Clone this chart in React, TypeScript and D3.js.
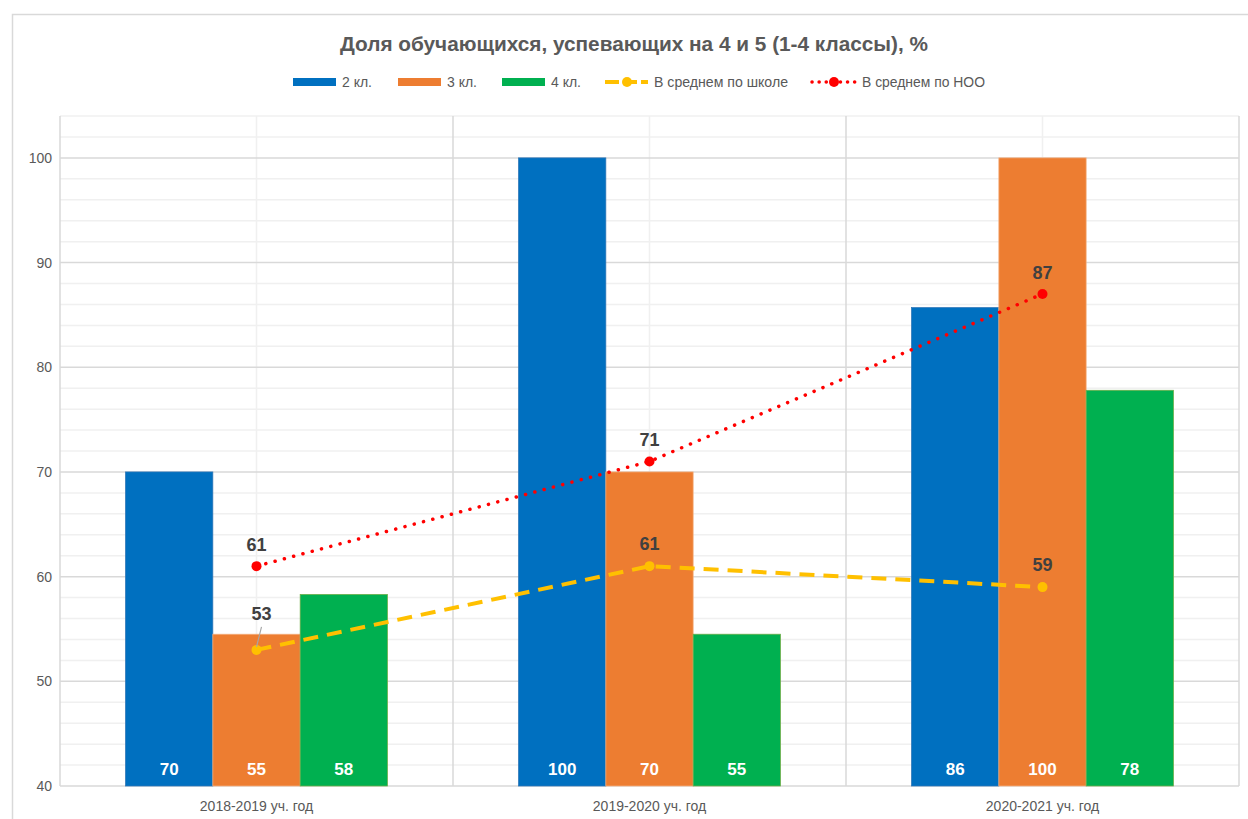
import React from "react";
import * as d3 from "d3";

const categories = ["2018-2019 уч. год", "2019-2020 уч. год", "2020-2021 уч. год"];
const barSeries = ["2 кл.", "3 кл.", "4 кл."];
const grade2 = [70, 100, 85.7];
const grade3 = [54.5, 70, 100];
const grade4 = [58.3, 54.5, 77.8];
const schoolAvg = [53, 61, 59];
const nooAvg = [61, 71, 87];
const yTicks = [40, 50, 60, 70, 80, 90, 100];
const title = "Доля обучающихся, успевающих на 4 и 5 (1-4 классы), %";
const lineNames = ["В среднем по школе", "В среднем по НОО"];

const barColors = ["#0070C0", "#ED7D31", "#00B050"];
const barEdge = ["#2E75B6", "#F4B183", "#70AD47"];
const schoolColor = "#FFC000";
const nooColor = "#FF0000";
const FONT = "'Liberation Sans', Arial, sans-serif";

export default function App() {
  const W = 1248, H = 819;
  const left = 60, right = 1239, top = 116, bottom = 786;
  const y = d3.scaleLinear().domain([40, 104]).range([bottom, top]);
  const x0 = d3.scaleBand<string>().domain(categories).range([left, right]).paddingInner(0).paddingOuter(0);
  const x1 = d3.scaleBand<string>().domain(barSeries).range([0, x0.bandwidth()]).paddingInner(0).paddingOuter(0.75);
  const barData = [grade2, grade3, grade4];
  const cx = (i: number) => (x0(categories[i]) as number) + x0.bandwidth() / 2;
  const minorTicks = d3.range(40, 105, 2).filter((v) => v % 10 !== 0);
  const line = d3.line<number>().x((_, i) => cx(i)).y((v) => y(v));

  return (
    <svg width={W} height={H} style={{ position: "absolute", left: 0, top: 0, background: "#fff" }} fontFamily={FONT}>
      <rect x={12.5} y={14.5} width={1260} height={820} fill="#fff" stroke="#d9d9d9" strokeWidth={1.5} />
      <text x={634} y={51} textAnchor="middle" fontSize={19.5} fontWeight="bold" fill="#595959" textLength={588} lengthAdjust="spacingAndGlyphs">{title}</text>

      {/* gridlines */}
      {minorTicks.map((v) => (
        <line key={"m" + v} x1={left} x2={right} y1={y(v)} y2={y(v)} stroke="#f0f0f0" strokeWidth={1.5} />
      ))}
      {categories.map((c, i) => (
        <line key={"vc" + i} x1={cx(i)} x2={cx(i)} y1={top} y2={bottom} stroke="#f0f0f0" strokeWidth={1.5} />
      ))}
      {yTicks.map((v) => (
        <line key={"M" + v} x1={left} x2={right} y1={y(v)} y2={y(v)} stroke="#d9d9d9" strokeWidth={1.5} />
      ))}
      {[0, 1, 2, 3].map((i) => {
        const xv = i < 3 ? (x0(categories[i]) as number) : right;
        return <line key={"vb" + i} x1={xv} x2={xv} y1={top} y2={bottom} stroke="#d9d9d9" strokeWidth={1.5} />;
      })}

      {/* y labels */}
      {yTicks.map((v) => (
        <text key={"yt" + v} x={52} y={y(v) + 5} textAnchor="end" fontSize={14} fill="#595959">{v}</text>
      ))}
      {/* x labels */}
      {categories.map((c, i) => (
        <text key={"xl" + i} x={cx(i)} y={811} textAnchor="middle" fontSize={14} fill="#595959">{c}</text>
      ))}

      {/* bars */}
      {barData.map((arr, s) =>
        arr.map((v, i) => {
          const bx = (x0(categories[i]) as number) + (x1(barSeries[s]) as number);
          return (
            <g key={"b" + s + "-" + i}>
              <rect x={bx} y={y(v)} width={x1.bandwidth()} height={y(40) - y(v)} fill={barColors[s]} stroke={barEdge[s]} strokeWidth={0.75} />
              <text x={bx + x1.bandwidth() / 2} y={775} textAnchor="middle" fontSize={17} fontWeight="bold" fill="#fff">{Math.round(v)}</text>
            </g>
          );
        })
      )}

      {/* school average line */}
      <path d={line(schoolAvg) as string} fill="none" stroke={schoolColor} strokeWidth={4} strokeDasharray="15 9" />
      {schoolAvg.map((v, i) => (
        <circle key={"sc" + i} cx={cx(i)} cy={y(v)} r={5} fill={schoolColor} />
      ))}
      {/* NOO line */}
      <path d={line(nooAvg) as string} fill="none" stroke={nooColor} strokeWidth={3.5} strokeDasharray="0.1 9.5" strokeLinecap="round" />
      {nooAvg.map((v, i) => (
        <circle key={"nc" + i} cx={cx(i)} cy={y(v)} r={5} fill={nooColor} />
      ))}

      {/* line labels */}
      {nooAvg.map((v, i) => (
        <text key={"nl" + i} x={cx(i)} y={y(v) - 15} textAnchor="middle" fontSize={18} fontWeight="bold" fill="#404040">{v}</text>
      ))}
      {schoolAvg.map((v, i) => {
        const lifted = i === 0;
        const ly = lifted ? y(v) - 30 : y(v) - 16;
        return (
          <g key={"sl" + i}>
            {lifted && <line x1={cx(i) + 5} y1={ly + 7} x2={cx(i)} y2={y(v) - 3} stroke="#a6a6a6" strokeWidth={1.2} />}
            <text x={cx(i) + (lifted ? 5 : 0)} y={ly} textAnchor="middle" fontSize={18} fontWeight="bold" fill="#404040">{v}</text>
          </g>
        );
      })}

      {/* legend */}
      {barSeries.map((s, i) => {
        const lx = [293, 398, 502][i];
        return (
          <g key={"lg" + i}>
            <rect x={lx} y={78} width={43} height={8} fill={barColors[i]} />
            <text x={lx + 49} y={87} fontSize={14} fill="#595959" textLength={30} lengthAdjust="spacingAndGlyphs">{s}</text>
          </g>
        );
      })}
      <g>
        <line x1={605} x2={648} y1={82} y2={82} stroke={schoolColor} strokeWidth={4} strokeDasharray="14 4" />
        <circle cx={627} cy={82} r={5} fill={schoolColor} />
        <text x={654} y={87} fontSize={14} fill="#595959" textLength={134} lengthAdjust="spacingAndGlyphs">{lineNames[0]}</text>
      </g>
      <g>
        <line x1={812} x2={855} y1={82} y2={82} stroke={nooColor} strokeWidth={3.5} strokeDasharray="0.1 7" strokeLinecap="round" />
        <circle cx={834} cy={82} r={5} fill={nooColor} />
        <text x={862} y={87} fontSize={14} fill="#595959" textLength={123} lengthAdjust="spacingAndGlyphs">{lineNames[1]}</text>
      </g>
    </svg>
  );
}
